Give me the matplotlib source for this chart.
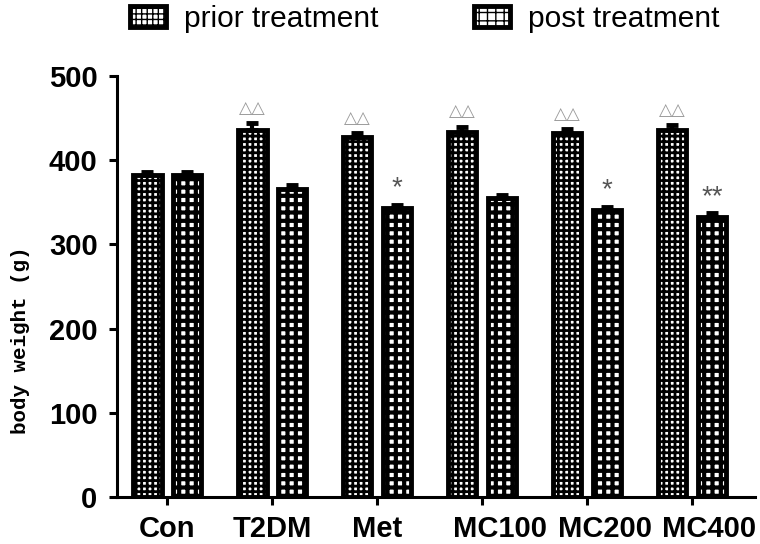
import numpy as np
import matplotlib.pyplot as plt
import matplotlib.transforms as mtransforms

groups = ['Con', 'T2DM', 'Met', 'MC100', 'MC200', 'MC400']
prior = [382, 436, 428, 434, 432, 436]
prior_err = [4, 8, 4, 6, 5, 6]
post = [382, 366, 343, 355, 341, 333]
post_err = [4, 4, 4, 4, 4, 4]
prior_marks = ['', '△△', '△△', '△△', '△△', '△△']
post_marks = ['', '', '*', '', '*', '**']

plt.rcParams['font.family'] = ['Liberation Sans', 'DejaVu Sans']

fig = plt.figure(figsize=(7.6, 5.44), dpi=100)
ax = fig.add_axes([117 / 760, 1 - 497 / 544, 638 / 760, 421 / 544])

x = np.arange(len(groups))
off = 0.19
w = 0.27
err_kw = dict(elinewidth=3, capsize=4.5, capthick=3.5, ecolor='black')

with plt.rc_context({'hatch.linewidth': 2.0}):
    b1 = ax.bar(x - off, prior, w, yerr=[np.zeros(len(x)), prior_err],
                color='white', edgecolor='black', linewidth=3.5, hatch='+++',
                error_kw=err_kw, label='prior treatment')
with plt.rc_context({'hatch.linewidth': 3.0}):
    b2 = ax.bar(x + off, post, w, yerr=[np.zeros(len(x)), post_err],
                color='white', edgecolor='black', linewidth=3.5, hatch='++',
                error_kw=err_kw, label='post treatment')

# significance marks
for i in range(len(groups)):
    if prior_marks[i]:
        ax.text(x[i] - off, prior[i] + prior_err[i] + 18, prior_marks[i],
                ha='center', va='center', fontsize=12.5, color='#9a9a9a',
                family='DejaVu Sans')
    if post_marks[i]:
        ax.text(x[i] + off, post[i] + post_err[i] + 11, post_marks[i],
                ha='center', va='baseline', fontsize=20, color='#555555')

ax.set_xlim(-0.48, 5.6)
ax.set_ylim(0, 500)
ax.set_yticks([0, 100, 200, 300, 400, 500])
ax.set_xticks(x)
ax.set_xticklabels(groups)

for s in ['top', 'right']:
    ax.spines[s].set_visible(False)
for s in ['left', 'bottom']:
    ax.spines[s].set_linewidth(2.2)

ax.tick_params(axis='both', length=6, width=2.2, labelsize=21)
ax.tick_params(axis='y', pad=8)
ax.tick_params(axis='x', pad=7)
for lab in ax.get_xticklabels() + ax.get_yticklabels():
    lab.set_fontweight('bold')

# the last three group labels sit a bit right of their ticks
shift = [0, 0, 0, 18, 18, 17]
for lab, dx in zip(ax.get_xticklabels(), shift):
    lab.set_transform(lab.get_transform() +
                      mtransforms.ScaledTranslation(dx / 100, 0, fig.dpi_scale_trans))

fig.text(21 / 760, 1 - 340 / 544, 'body weight (g)', rotation=90,
         ha='center', va='center', fontsize=15, fontweight='bold',
         family='Liberation Mono')

fig.legend(handles=[b1, b2], loc='upper center', bbox_to_anchor=(0.559, 1.04),
           ncol=2, frameon=False, fontsize=21.5, handlelength=1.2,
           handleheight=0.7, columnspacing=3.2, handletextpad=0.6)

fig.savefig('out.png', dpi=100)
